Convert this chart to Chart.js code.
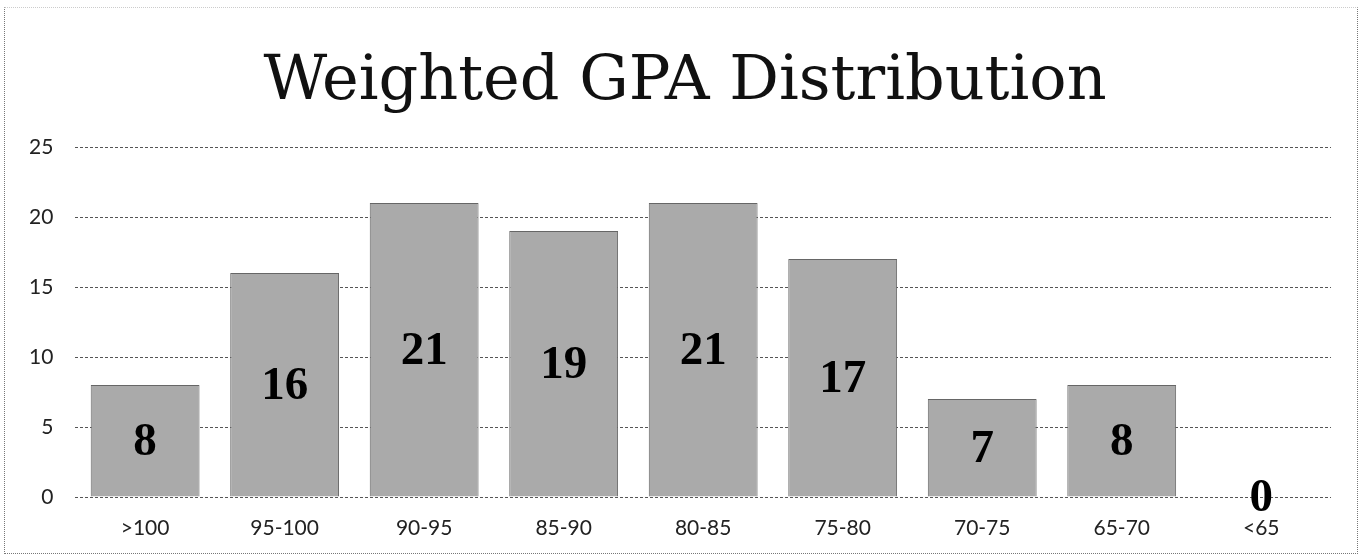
<!DOCTYPE html>
<html lang="en">
  <head>
    <meta charset="UTF-8" />
    <title>Weighted GPA Distribution</title>
    <script src="https://cdn.jsdelivr.net/npm/chart.js"></script>
    <style>
      * {
        margin: 0;
        padding: 0;
        box-sizing: border-box;
      }

      body {
        background: #fff;
        width: 1362px;
        height: 559px;
        overflow: hidden;
      }

      .wrap {
        position: relative;
        width: 1362px;
        height: 559px;
      }

      /* dotted frame around the chart, like the scanned page */
      .frame {
        position: absolute;
        left: 4px;
        top: 7px;
        width: 1354px;
        height: 547px;
        border: 1px dotted #777;
        border-top-color: #ccc;
        pointer-events: none;
      }
    </style>
  </head>
  <body>
    <div class="wrap">
      <canvas id="gpaChart" width="1362" height="559"></canvas>
      <div class="frame"></div>
    </div>

    <script>
      // data
      const chartTitle = "Weighted GPA Distribution";
      const gpaBands = ["\u003e100", "95-100", "90-95", "85-90", "80-85", "75-80", "70-75", "65-70", "\u003c65"];
      const studentCounts = [8, 16, 21, 19, 21, 17, 7, 8, 0];
      const yTicks = [0, 5, 10, 15, 20, 25];

      // title drawn by hand so it sits a bit right of the canvas centre, like the original
      const topTitle = {
        id: "topTitle",
        afterDraw(chart) {
          const ctx = chart.ctx;
          ctx.save();
          ctx.font = "62px 'DejaVu Serif'";
          ctx.fillStyle = "#111";
          ctx.textAlign = "center";
          ctx.textBaseline = "alphabetic";
          ctx.fillText(chartTitle, 685, 99);
          ctx.restore();
        },
      };

      // draws the count in the middle of each bar
      const barValues = {
        id: "barValues",
        afterDatasetsDraw(chart) {
          const ctx = chart.ctx;
          const meta = chart.getDatasetMeta(0);
          ctx.save();
          ctx.font = "bold 47px 'Liberation Serif'";
          ctx.fillStyle = "#000";
          ctx.textAlign = "center";
          ctx.textBaseline = "middle";
          meta.data.forEach((bar, i) => {
            const mid = (bar.y + bar.base) / 2;
            ctx.fillText(String(studentCounts[i]), bar.x, mid + 2);
          });
          ctx.restore();
        },
      };

      const ctx = document.getElementById("gpaChart").getContext("2d");

      new Chart(ctx, {
        type: "bar",
        data: {
          labels: gpaBands,
          datasets: [
            {
              data: studentCounts,
              backgroundColor: "#aaaaaa",
              borderColor: "#666",
              borderWidth: 1,
              categoryPercentage: 0.78,
              barPercentage: 1.0,
            },
          ],
        },
        options: {
          responsive: false,
          animation: false,
          layout: {
            padding: { left: 7, right: 31, top: 147, bottom: 0 },
          },
          plugins: {
            legend: { display: false },
            tooltip: { enabled: false },
            title: { display: false },
          },
          scales: {
            x: {
              afterFit: (axis) => {
                axis.height = 62; // keeps the plot bottom at the 0 line of the original
              },
              grid: { display: false, drawTicks: false },
              border: { display: false },
              ticks: {
                color: "#222",
                padding: 19,
                font: { family: "Lato", size: 21 },
              },
            },
            y: {
              min: 0,
              max: 25,
              afterBuildTicks: (axis) => {
                axis.ticks = yTicks.map((v) => ({ value: v }));
              },
              grid: {
                color: "#555",
                lineWidth: 1,
                drawTicks: false,
              },
              border: { display: false, dash: [3, 2] },
              ticks: {
                color: "#222",
                padding: 22,
                font: { family: "Lato", size: 21 },
              },
            },
          },
        },
        plugins: [barValues, topTitle],
      });
    </script>
  </body>
</html>
